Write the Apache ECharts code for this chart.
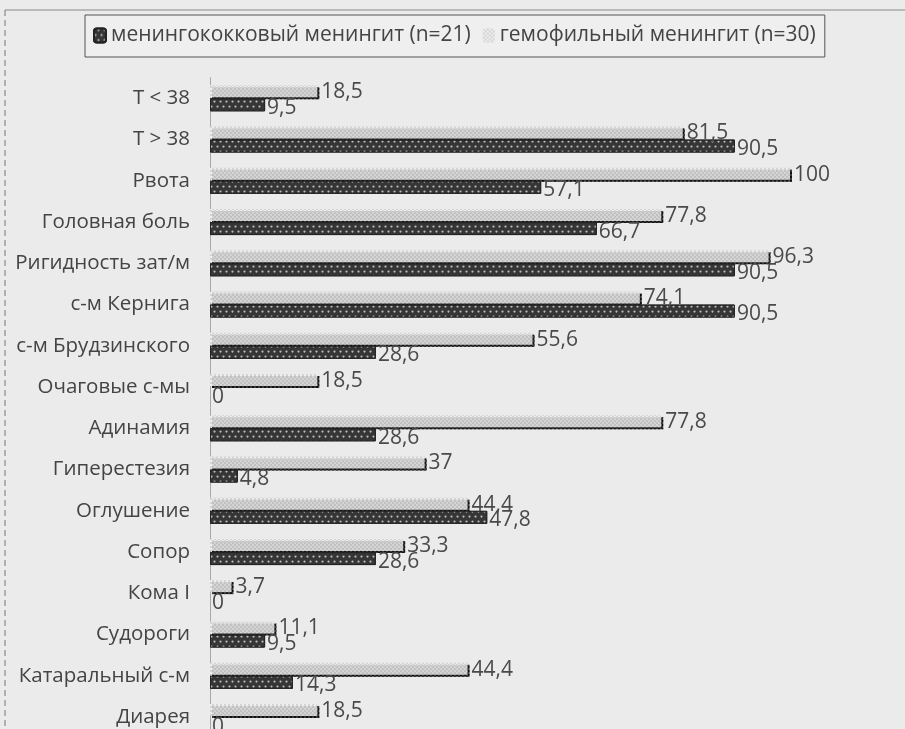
<!DOCTYPE html>
<html>
<head>
<meta charset="utf-8">
<script src="https://cdn.jsdelivr.net/npm/echarts@6/dist/echarts.min.js"></script>
<style>
  html, body { margin: 0; padding: 0; background: #ebebeb; overflow: hidden; }
  #chart { width: 905px; height: 750px; }
</style>
</head>
<body>
<div id="chart"></div>
<script>
// Symptom categories, top to bottom
const categories = [
  'Т < 38', 'Т > 38', 'Рвота', 'Головная боль', 'Ригидность зат/м',
  'с-м Кернига', 'с-м Брудзинского', 'Очаговые с-мы', 'Адинамия',
  'Гиперестезия', 'Оглушение', 'Сопор', 'Кома I', 'Судороги',
  'Катаральный с-м', 'Диарея'
];

// Percentage of patients, meningococcal meningitis (n=21)
const meningococcal = [9.5, 90.5, 57.1, 66.7, 90.5, 90.5, 28.6, 0, 28.6, 4.8, 47.8, 28.6, 0, 9.5, 14.3, 0];

// Percentage of patients, Haemophilus meningitis (n=30)
const haemophilus = [18.5, 81.5, 100, 77.8, 96.3, 74.1, 55.6, 18.5, 77.8, 37, 44.4, 33.3, 3.7, 11.1, 44.4, 18.5];

const seriesNames = ['менингококковый менингит (n=21)', 'гемофильный менингит (n=30)'];

const FONT = 'Open Sans';
const commaFmt = p => String(p.value).replace('.', ',');

// zero-length bars carry no outline, only their "0" label
const meningococcalItems = meningococcal.map(v =>
  v === 0 ? { value: v, itemStyle: { borderWidth: 0 } } : v);

const chart = echarts.init(document.getElementById('chart'), null, { renderer: 'canvas' });

chart.setOption({
  backgroundColor: '#ebebeb',
  animation: false,
  textStyle: { fontFamily: FONT },
  graphic: [
    { type: 'line', shape: { x1: 5, y1: 10, x2: 905, y2: 10 }, style: { stroke: '#8a8a8a', lineWidth: 1.2 } },
    { type: 'line', shape: { x1: 5, y1: 10, x2: 5, y2: 750 }, style: { stroke: '#777', lineWidth: 1, lineDash: [6, 4] } }
  ],
  legend: {
    data: seriesNames,
    left: 85,
    top: 15,
    padding: [10, 9, 11, 8],
    borderColor: '#555',
    borderWidth: 1,
    backgroundColor: '#efefef',
    itemWidth: 12,
    itemHeight: 14,
    itemGap: 12,
    textStyle: { fontSize: 21, color: '#444', fontFamily: FONT }
  },
  grid: { left: 210, right: 115, top: 77.6, height: 660, containLabel: false },
  xAxis: {
    type: 'value',
    min: 0,
    max: 100,
    show: false
  },
  yAxis: {
    type: 'category',
    inverse: true,
    data: categories,
    axisLine: { show: true, lineStyle: { color: '#a8a8a8', width: 1 } },
    axisTick: { show: false },
    axisLabel: { fontSize: 20.5, color: '#444', margin: 20, fontFamily: FONT }
  },
  series: [
    {
      name: seriesNames[1],
      type: 'bar',
      data: haemophilus,
      barWidth: 12,
      barGap: '10%',
      itemStyle: {
        color: '#d4d4d4',
        shadowColor: '#3a3a3a',
        shadowOffsetX: 2,
        shadowOffsetY: 2,
        shadowBlur: 0,
        decal: {
          symbol: 'rect',
          symbolSize: 1,
          color: 'rgba(250,250,250,0.7)',
          dashArrayX: [[2, 2], [0, 2, 2, 0]],
          dashArrayY: [2, 0]
        }
      },
      label: {
        show: true,
        position: 'right',
        distance: 4,
        offset: [0, 1],
        fontSize: 21,
        color: '#4a4a4a',
        fontFamily: FONT,
        formatter: commaFmt
      }
    },
    {
      name: seriesNames[0],
      type: 'bar',
      data: meningococcalItems,
      barWidth: 13,
      barGap: '10%',
      itemStyle: {
        color: '#363636',
        borderColor: '#242424',
        borderWidth: 1,
        decal: {
          symbol: 'circle',
          symbolSize: 0.75,
          color: 'rgba(210,210,210,0.85)',
          dashArrayX: [[3, 3], [0, 3, 3, 0]],
          dashArrayY: [3, 2]
        }
      },
      label: {
        show: true,
        position: 'right',
        distance: 2,
        offset: [0, 3],
        fontSize: 21,
        color: '#4a4a4a',
        fontFamily: FONT,
        formatter: commaFmt
      }
    }
  ]
});
</script>
</body>
</html>
